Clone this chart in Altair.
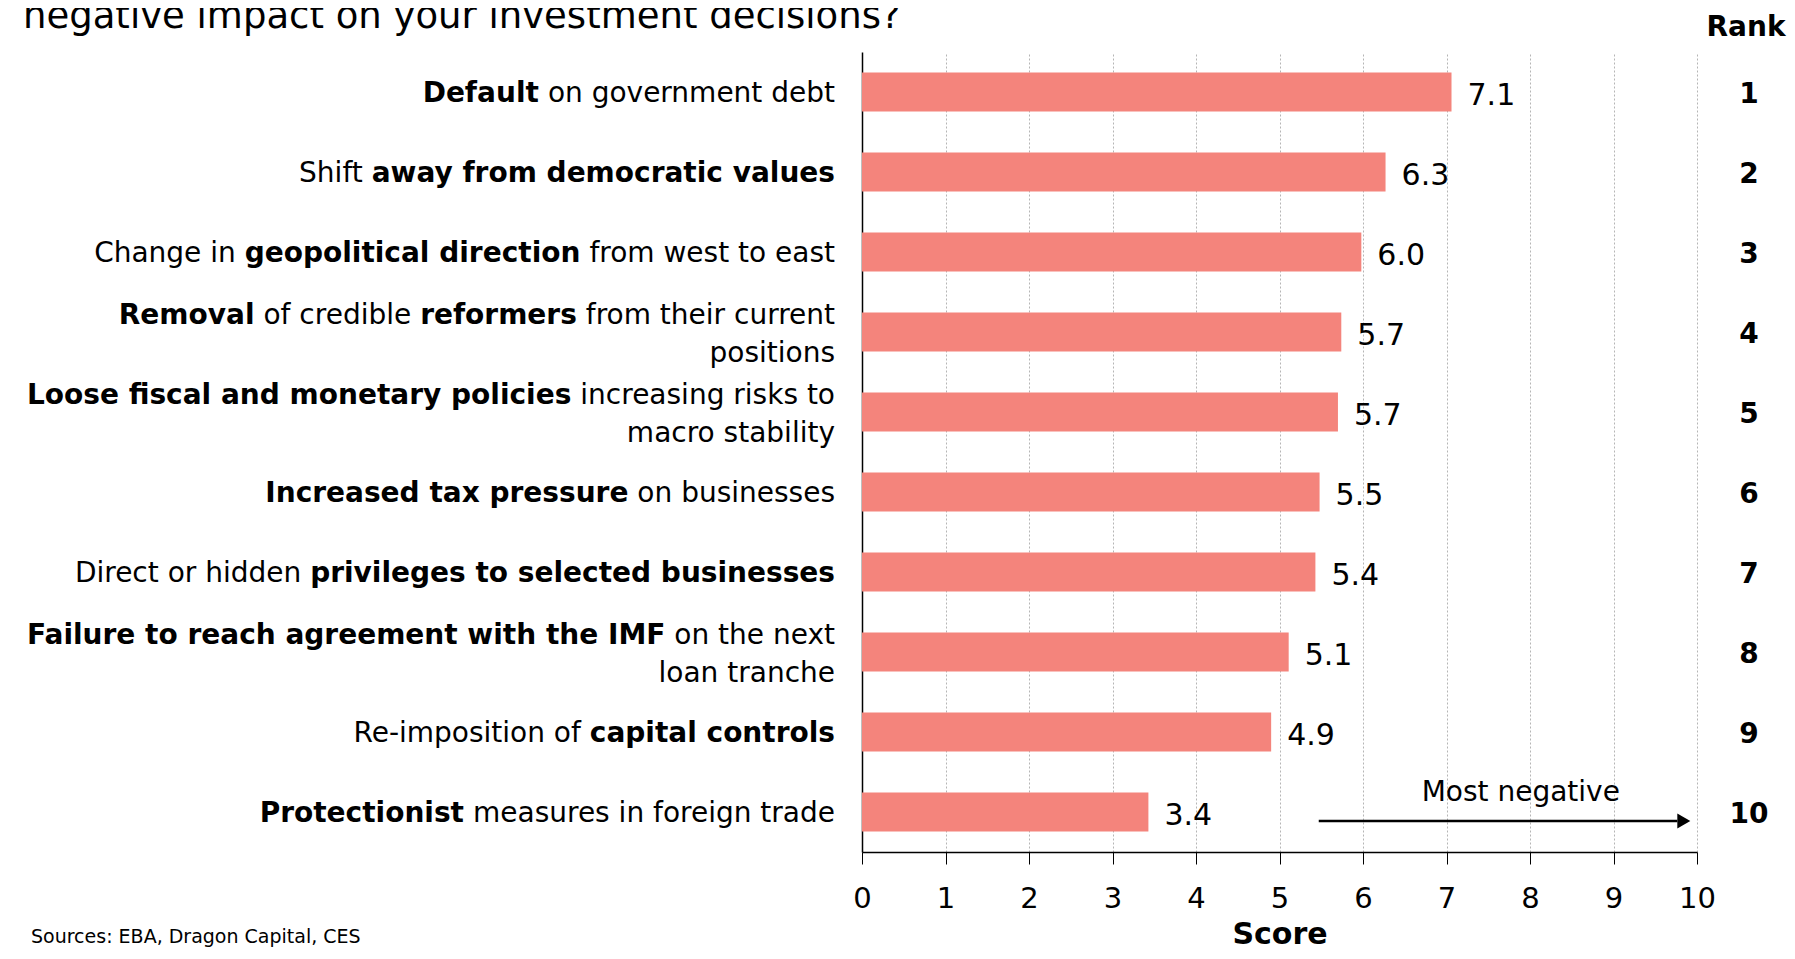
import glob
import string
import altair as alt
import pandas as pd

# ---------------- data ----------------
label_markup = [
    "**Default** on government debt",
    "Shift **away from democratic values**",
    "Change in **geopolitical direction** from west to east",
    "**Removal** of credible **reformers** from their current|positions",
    "**Loose fiscal and monetary policies** increasing risks to|macro stability",
    "**Increased tax pressure** on businesses",
    "Direct or hidden **privileges to selected businesses**",
    "**Failure to reach agreement with the IMF** on the next|loan tranche",
    "Re-imposition of **capital controls**",
    "**Protectionist** measures in foreign trade",
]
scores = [7.06, 6.27, 5.98, 5.74, 5.70, 5.48, 5.43, 5.11, 4.90, 3.43]
score_labels = ["7.1", "6.3", "6.0", "5.7", "5.7", "5.5", "5.4", "5.1", "4.9", "3.4"]
ranks = ["1", "2", "3", "4", "5", "6", "7", "8", "9", "10"]
x_ticks = [0, 1, 2, 3, 4, 5, 6, 7, 8, 9, 10]

title_text = "negative impact on your investment decisions?"
rank_header = "Rank"
axis_title = "Score"
source_text = "Sources: EBA, Dragon Capital, CES"
note_text = "Most negative"
note_x = [7.89]
arrow_start = [5.47]
arrow_tip = [9.92]

FONT = "DejaVu Sans"
W, H = 835, 800
LABEL_SIZE = 28
LABEL_RIGHT = -27
LINE_DY = 19
BAR_COLOR = "#F4847C"

# ---------------- text measuring helper (for mixed bold/regular labels) ----------------
_REG = dict(zip(" -,.:?", [651, 739, 651, 651, 690, 1087]))
_REG.update(zip(string.ascii_uppercase, [1401, 1405, 1430, 1577, 1294, 1178, 1587, 1540, 604, 604, 1343, 1141, 1767,
                                          1532, 1612, 1235, 1612, 1423, 1300, 1251, 1499, 1401, 2025, 1403, 1251, 1403]))
_REG.update(zip(string.ascii_lowercase, [1255, 1300, 1126, 1300, 1260, 721, 1300, 1298, 569, 569, 1186, 569, 1995,
                                          1298, 1253, 1300, 1300, 842, 1067, 803, 1298, 1212, 1675, 1212, 1212, 1075]))
_BOLD = dict(zip(" -,.:?", [713, 852, 778, 778, 819, 1188]))
_BOLD.update(zip(string.ascii_uppercase, [1589, 1552, 1498, 1730, 1394, 1394, 1677, 1708, 762, 762, 1589, 1362, 2038,
                                           1708, 1741, 1501, 1741, 1565, 1470, 1397, 1661, 1589, 2259, 1587, 1516, 1474]))
_BOLD.update(zip(string.ascii_lowercase, [1382, 1466, 1214, 1466, 1389, 891, 1466, 1458, 702, 702, 1362, 702, 2134,
                                           1458, 1407, 1466, 1466, 1010, 1219, 979, 1458, 1335, 1892, 1321, 1335, 1219]))

_font_cache = {}


def _pil_font(bold, size):
    key = (bold, size)
    if key in _font_cache:
        return _font_cache[key]
    font = None
    try:
        from PIL import ImageFont
        name = "DejaVuSans-Bold.ttf" if bold else "DejaVuSans.ttf"
        paths = glob.glob("/usr/share/fonts/**/" + name, recursive=True)
        if paths:
            font = ImageFont.truetype(paths[0], size)
    except Exception:
        font = None
    _font_cache[key] = font
    return font


def text_width(s, bold, size):
    f = _pil_font(bold, size)
    if f is not None:
        try:
            return float(f.getlength(s))
        except Exception:
            pass
    table = _BOLD if bold else _REG
    return sum(table.get(ch, 1300) for ch in s) / 2048.0 * size


# ---------------- build tables ----------------
cats = [m.replace("**", "").replace("|", " ") for m in label_markup]

bars = pd.DataFrame({"cat": cats, "score": scores, "lab": score_labels, "rank": ranks})

seg_rows = []
for cat, markup in zip(cats, label_markup):
    lines = markup.split("|")
    n = len(lines)
    for li, line in enumerate(lines):
        dy = 0 if n == 1 else (-LINE_DY if li == 0 else LINE_DY)
        parts = line.split("**")
        segs = [(p, i % 2 == 1) for i, p in enumerate(parts) if p != ""]
        cursor = LABEL_RIGHT
        for txt, bold in reversed(segs):
            stripped_r = txt.rstrip(" ")
            cursor -= text_width(" " * (len(txt) - len(stripped_r)), bold, LABEL_SIZE)
            core = stripped_r.lstrip(" ")
            if core:
                seg_rows.append({"cat": cat, "txt": core, "px": cursor,
                                 "grp": f"{dy}_{'b' if bold else 'n'}"})
                cursor -= text_width(core, bold, LABEL_SIZE)
            cursor -= text_width(" " * (len(stripped_r) - len(core)), bold, LABEL_SIZE)
segs_df = pd.DataFrame(seg_rows)

arrow_df = pd.DataFrame({"cat": [cats[-1]], "x1": arrow_start, "tip": arrow_tip, "note_x": note_x,
                         "note": [note_text]})

# ---------------- encodings ----------------
y_enc = alt.Y("cat:N", sort=cats,
              scale=alt.Scale(paddingInner=0.51, paddingOuter=0.255),
              axis=alt.Axis(labels=False, ticks=False, title=None, grid=False,
                            domain=True, domainColor="#000000", domainWidth=1.5))

x_scale = alt.Scale(domain=[0, 10], nice=False, zero=True)
x_axis = alt.Axis(values=x_ticks, format="d", tickSize=12, tickColor="#000000", tickWidth=1,
                  labelPadding=20, labelFontSize=29, labelColor="#000000", labelFont=FONT,
                  labelFlush=False,
                  domainColor="#000000", domainWidth=1.5,
                  grid=True, gridColor="#b5b5b5", gridDash=[2, 2], gridWidth=1,
                  title=axis_title, titleFontSize=30, titleFontWeight="bold", titleFont=FONT,
                  titleColor="#000000", titleY=91, titleBaseline="alphabetic")

bar_layer = alt.Chart(bars).mark_bar(color=BAR_COLOR).encode(
    x=alt.X("score:Q", scale=x_scale, axis=x_axis),
    y=y_enc,
)

value_layer = alt.Chart(bars).mark_text(align="left", baseline="middle", dx=16, dy=4,
                                        fontSize=30, font=FONT, color="#000000").encode(
    x=alt.X("score:Q", scale=x_scale),
    y=y_enc,
    text="lab:N",
)

rank_layer = alt.Chart(bars).mark_text(align="center", baseline="middle", dy=3, fontSize=28,
                                       fontWeight="bold", font=FONT, color="#000000").encode(
    x=alt.value(887),
    y=y_enc,
    text="rank:N",
)

label_layers = []
for dy in (-LINE_DY, 0, LINE_DY):
    for w in ("b", "n"):
        key = f"{dy}_{w}"
        if (segs_df["grp"] == key).any():
            label_layers.append(
                alt.Chart(segs_df).transform_filter(alt.datum.grp == key).mark_text(
                    align="right", baseline="middle", dy=dy + (3 if dy else 2), fontSize=LABEL_SIZE,
                    font=FONT, fontWeight="bold" if w == "b" else "normal", color="#000000").encode(
                    x=alt.X("px:Q", scale=None, axis=None),
                    y=y_enc,
                    text="txt:N",
                )
            )

HEAD_LEN = 13  # px
px_per_unit = W / 10.0
arrow_line = alt.Chart(arrow_df).transform_calculate(
    x2=f"datum.tip - {HEAD_LEN / px_per_unit}"
).mark_rule(color="#000000", strokeWidth=2.5, yOffset=9).encode(
    x=alt.X("x1:Q", scale=x_scale),
    x2="x2:Q",
    y=y_enc,
)
arrow_head = alt.Chart(arrow_df).transform_calculate(
    xc=f"datum.tip - {HEAD_LEN / 2 / px_per_unit}"
).mark_point(shape="triangle-right", filled=True, size=225, color="#000000", opacity=1,
             yOffset=9).encode(
    x=alt.X("xc:Q", scale=x_scale),
    y=y_enc,
)
note_layer = alt.Chart(arrow_df).mark_text(align="center", baseline="alphabetic", dy=-11,
                                           fontSize=28, font=FONT, color="#000000").encode(
    x=alt.X("note_x:Q", scale=x_scale),
    y=y_enc,
    text="note:N",
)

title_layer = alt.Chart(pd.DataFrame({"t": [title_text]})).mark_text(
    align="left", baseline="alphabetic", fontSize=37, font=FONT, color="#000000").encode(
    x=alt.value(-839), y=alt.value(-24), text="t:N")

rank_head_layer = alt.Chart(pd.DataFrame({"t": [rank_header]})).mark_text(
    align="center", baseline="alphabetic", fontSize=28, fontWeight="bold", font=FONT,
    color="#000000").encode(x=alt.value(884), y=alt.value(-16), text="t:N")

source_layer = alt.Chart(pd.DataFrame({"t": [source_text]})).mark_text(
    align="left", baseline="alphabetic", fontSize=19, font=FONT, color="#000000").encode(
    x=alt.value(-831), y=alt.value(891), text="t:N")

chart = alt.layer(
    bar_layer, value_layer, rank_layer, *label_layers,
    arrow_line, arrow_head, note_layer, title_layer, rank_head_layer, source_layer,
).properties(
    width=W, height=H,
    padding={"left": 854, "top": 44, "right": 90, "bottom": 99},
    autosize=alt.AutoSizeParams(type="none"),
).configure_view(stroke=None).configure_text(font=FONT).configure_axis(labelFont=FONT, titleFont=FONT)

chart.save("out.html", embed_options={"renderer": "svg", "actions": False})
